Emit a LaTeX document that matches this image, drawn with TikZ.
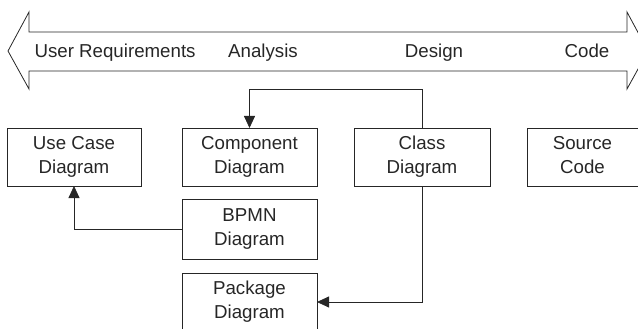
\documentclass[tikz,border=0pt]{standalone}
\usepackage{fontspec}
\setmainfont{Liberation Sans}
\usetikzlibrary{positioning, arrows.meta}

\begin{document}
\begin{tikzpicture}[
    x=1pt, y=1pt,
    color=black!85,
    block/.style={rectangle, draw, line width=0.8pt, minimum width=#1, minimum height=58pt, inner sep=0pt, outer sep=0pt, align=center, font=\fontsize{18.7}{24}\selectfont,
        execute at begin node=\rule{0pt}{20pt}, execute at end node=\rule[-4pt]{0pt}{4pt}},
    block/.default=135pt,
    arr/.style={-{Triangle[length=12pt, width=11pt]}, line width=0.8pt},
    lbl/.style={font=\fontsize{18.7}{22}\selectfont, anchor=base},
]
    \useasboundingbox (0,0) rectangle (638,-329);
    \clip (0,0) rectangle (638,-329);

    % Phase arrow
    \draw[line width=0.8pt] (8,-51) -- (29,-12) -- (29,-32) -- (627,-32) -- (627,-12) -- (648,-51)
        -- (627,-89) -- (627,-71) -- (29,-71) -- (29,-89) -- cycle;
    \node[lbl, anchor=base west] (req) at (31,-58) {User Requirements};
    \node[lbl] (analysis) at (263,-58) {Analysis};
    \node[lbl] (design) at (434,-58) {Design};
    \node[lbl] (code) at (587,-58) {Code};

    % Diagrams
    \node[block=134pt] (usecase) at (74,-157) {Use Case\\Diagram};
    \node[block, right=41pt of usecase] (component) {Component\\Diagram};
    \node[block=136pt, right=37pt of component] (class) {Class\\Diagram};
    \node[block=111pt, right=37pt of class] (source) {Source\\Code};
    \node[block, minimum height=60pt, below=13pt of component] (bpmn) {BPMN\\Diagram};
    \node[block, below=14pt of bpmn] (package) {Package\\Diagram};

    % Arrows
    \coordinate (bend) at (249.5,-89);
    \draw[arr] (class.north) |- (bend) -- (component.north);
    \draw[arr] (class.south) |- (package.east);
    \draw[arr] (bpmn.west) -| (usecase.south);

\end{tikzpicture}
\end{document}
